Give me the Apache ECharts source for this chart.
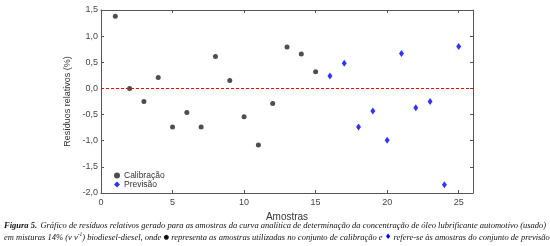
<!DOCTYPE html>
<html><head><meta charset="utf-8">
<script src="https://cdn.jsdelivr.net/npm/echarts@6/dist/echarts.min.js"></script>
<style>html,body{margin:0;padding:0;background:#fff}#c{width:550px;height:246px}</style>
</head><body><div id="c"></div>
<script>
var calibX = [1,2,3,4,5,6,7,8,9,10,11,12,13,14,15];
var calibY = [1.38,0.00,-0.25,0.21,-0.74,-0.46,-0.74,0.61,0.15,-0.54,-1.08,-0.29,0.79,0.66,0.32];
var prevX = [16,17,18,19,20,21,22,23,24,25];
var prevY = [0.24,0.48,-0.74,-0.43,-0.99,0.67,-0.37,-0.25,-1.84,0.80];
var xTicks = [0,5,10,15,20,25];
var yTicks = [-2.0,-1.5,-1.0,-0.5,0.0,0.5,1.0,1.5];

function pairs(xs, ys){ return xs.map(function(x,i){return [x, ys[i]];}); }
var axisCol = '#555';
var lblFont = {fontFamily:'Liberation Sans', fontSize:9, color:'#444'};
var chart = echarts.init(document.getElementById('c'), null, {renderer:'canvas'});
var fmtY = function(v){ return v.toFixed(1).replace('.', ','); };
chart.setOption({
  animation:false,
  grid:{left:101, right:77, top:10, bottom:53},
  xAxis:[{type:'value', min:0, max:26, interval:5, position:'bottom',
    axisLine:{onZero:false, lineStyle:{color:axisCol, width:1}},
    axisTick:{inside:true, length:3, lineStyle:{color:axisCol}},
    axisLabel:Object.assign({margin:5, formatter:function(v){return xTicks.indexOf(v)>=0? String(v):'';}}, lblFont),
    splitLine:{show:false},
    name:'Amostras', nameLocation:'middle', nameGap:14,
    nameTextStyle:{fontFamily:'Liberation Sans', fontSize:10, color:'#333'}},
   {type:'value', min:0, max:26, interval:5, position:'top',
    axisLine:{onZero:false, lineStyle:{color:axisCol, width:1}},
    axisTick:{inside:true, length:3, lineStyle:{color:axisCol}},
    axisLabel:{show:false}, splitLine:{show:false}}],
  yAxis:[{type:'value', min:-2, max:1.5, interval:0.5, position:'left',
    axisLine:{show:true, onZero:false, lineStyle:{color:axisCol, width:1}},
    axisTick:{show:true, inside:true, length:3, lineStyle:{color:axisCol}},
    axisLabel:Object.assign({margin:3, formatter:function(v){return yTicks.indexOf(Math.round(v*10)/10)>=0? fmtY(v):'';}}, lblFont),
    splitLine:{show:false},
    name:'Resíduos relativos (%)', nameLocation:'middle', nameGap:9,
    nameTextStyle:{fontFamily:'Liberation Sans', fontSize:9, color:'#333'}},
   {type:'value', min:-2, max:1.5, interval:0.5, position:'right',
    axisLine:{show:true, onZero:false, lineStyle:{color:axisCol, width:1}},
    axisTick:{show:true, inside:true, length:3, lineStyle:{color:axisCol}},
    axisLabel:{show:false}, splitLine:{show:false}}],
  legend:{left:109, top:166, orient:'vertical', itemGap:0, itemWidth:6, itemHeight:6,
    textStyle:{fontFamily:'Liberation Sans', fontSize:8.5, color:'#333', padding:[0,0,0,-1]},
    data:[{name:'Calibração', icon:'circle'},{name:'Previsão', icon:'diamond'}]},
  series:[
    {name:'Calibração', type:'scatter', data:pairs(calibX, calibY), symbol:'circle', symbolSize:5,
     itemStyle:{color:'#222'},
     markLine:{silent:true, symbol:'none', label:{show:false},
       lineStyle:{color:'#f00', type:[3,2], width:1}, data:[{yAxis:0}]}},
    {name:'Previsão', type:'scatter', data:pairs(prevX, prevY), symbol:'diamond', symbolSize:[5,7],
     itemStyle:{color:'#0000ff'}}
  ],
  graphic:[
    {type:'text', left:4, top:220, style:{
      text:'{b|Figura 5.} {i|Gráfico de resíduos relativos gerado para as amostras da curva analítica de determinação da concentração de óleo lubrificante automotivo (usado)}',
      rich:{b:{fontFamily:'Liberation Serif', fontStyle:'italic', fontWeight:'bold', fontSize:8.5, fill:'#111'},
            i:{fontFamily:'Liberation Serif', fontStyle:'italic', fontSize:8.5, fill:'#111'}}}},
    {type:'text', left:4, top:232, style:{
      text:'{i|em misturas 14% (v v}{s|-1}{i|) biodiesel-diesel, onde }{k|●}{i| representa as amostras utilizadas no conjunto de calibração e }{d|♦}{i| refere-se às amostras do conjunto de previsão}',
      rich:{i:{fontFamily:'Liberation Serif', fontStyle:'italic', fontSize:8.5, fill:'#111'},
            s:{fontFamily:'Liberation Serif', fontStyle:'italic', fontSize:5.5, fill:'#111', verticalAlign:'top', padding:[0,0,5,0]},
            k:{fontFamily:'DejaVu Sans', fontSize:6.5, fill:'#111'},
            d:{fontFamily:'DejaVu Sans', fontSize:7.5, fill:'#0000ff'}}}}
  ]
});
</script></body></html>
